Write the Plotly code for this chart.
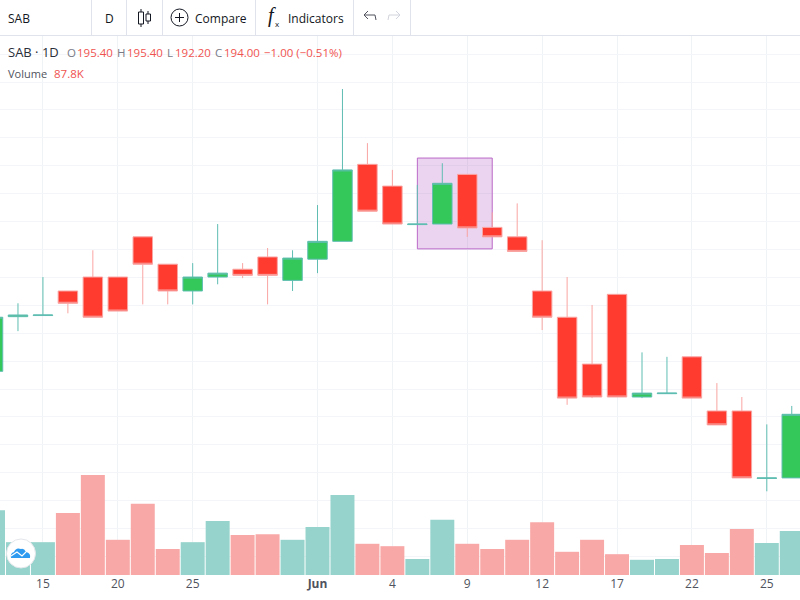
# SAB daily candles with volume underneath

import pandas as pd
import plotly.graph_objects as go

dates = ['2020-05-13','2020-05-14','2020-05-15','2020-05-18','2020-05-19','2020-05-20','2020-05-21','2020-05-22','2020-05-25','2020-05-26','2020-05-27',
         '2020-05-28','2020-05-29','2020-06-01','2020-06-02','2020-06-03','2020-06-04','2020-06-05','2020-06-08','2020-06-09','2020-06-10','2020-06-11',
         '2020-06-12','2020-06-15','2020-06-16','2020-06-17','2020-06-18','2020-06-19','2020-06-22','2020-06-23','2020-06-24','2020-06-25','2020-06-26']
open_px = [203.2,213.0,213.2,217.6,220.1,220.1,227.3,222.4,217.6,220.1,221.5,223.7,219.5,223.3,226.5,240.3,236.4,229.5,229.6,238.5,229.0,227.3,
           217.6,212.9,204.5,217.0,198.6,199.2,205.8,196.1,196.1,184.0,184.1]
high_px = [212.9,215.4,220.1,217.6,224.9,220.1,227.3,222.4,222.6,229.6,222.6,225.3,224.9,233.0,253.8,244.1,239.3,236.6,240.5,238.5,231.7,233.3,
           226.7,220.1,215.1,217.0,206.6,205.8,205.8,201.1,198.6,193.7,197.0]
low_px = [203.2,210.4,213.2,213.6,212.9,214.0,215.2,215.2,215.2,218.8,219.9,215.2,217.6,220.8,226.5,231.9,229.6,229.5,229.6,227.3,227.3,224.7,
          210.6,197.2,198.4,198.6,198.4,199.2,198.4,193.6,184.1,181.7,184.1]
close_px = [212.9,213.3,213.3,215.4,212.9,214.0,222.4,217.6,220.1,220.8,220.4,220.4,223.5,226.5,239.3,231.9,229.6,229.6,236.9,228.9,227.3,224.7,
            212.9,198.4,198.6,198.6,199.3,199.3,198.4,193.6,184.1,184.1,195.5]
volume = [162,82,82,155,250,88,178,65,82,135,100,102,88,120,200,78,72,40,138,78,65,88,132,58,88,52,38,40,75,55,115,80,110]
# volume is in thousands

tick_dates = ['2020-05-15','2020-05-20','2020-05-25','2020-06-01','2020-06-04','2020-06-09','2020-06-12','2020-06-17','2020-06-22','2020-06-25']
tick_labels = ['15','20','25','<b>Jun</b>','4','9','12','17','22','25']

df = pd.DataFrame({'date': dates, 'open': open_px, 'high': high_px, 'low': low_px, 'close': close_px, 'volume': volume})
df['bar_color'] = ['#95d3cc' if c >= o else '#f8a8a6' for o, c in zip(df['open'], df['close'])]

fig = go.Figure()
fig.add_trace(go.Bar(x=df['date'], y=df['volume'], marker_color=df['bar_color'], marker_line_width=0, yaxis='y2', hoverinfo='skip'))
fig.add_trace(go.Candlestick(x=df['date'], open=df['open'], high=df['high'], low=df['low'], close=df['close'],
                             increasing={'line': {'color': '#5fbdb2', 'width': 1}, 'fillcolor': '#34c759'},
                             decreasing={'line': {'color': '#f9a5a3', 'width': 1}, 'fillcolor': '#ff3b30'},
                             whiskerwidth=0))

fig.update_layout(margin={"r":0,"t":0,"l":0,"b":0}, width=800, height=600, showlegend=False, bargap=0.04, boxgap=0.22, boxgroupgap=0,
                  paper_bgcolor='white', plot_bgcolor='white', font={'family': 'Open Sans', 'color': '#50535e', 'size': 12},
                  xaxis={'type': 'category', 'range': [0.28, 32.33], 'rangeslider': {'visible': False}, 'domain': [0, 1], 'tickmode': 'array', 'tickvals': tick_dates,
                         'ticktext': tick_labels, 'showgrid': True, 'gridcolor': '#f0f3f6', 'zeroline': False, 'showline': False, 'ticks': ''},
                  yaxis={'range': [166.7, 263.3], 'domain': [25/600, 564/600], 'showgrid': False, 'showticklabels': False,
                         'zeroline': False, 'overlaying': 'y2', 'ticks': ''},
                  yaxis2={'range': [0, 1347], 'domain': [25/600, 564/600], 'dtick': 69.75, 'tick0': 46.25, 'gridcolor': '#f3f5f8', 'showticklabels': False, 'zeroline': False, 'ticks': ''})
# the grid sits on the volume axis so it stays under the purple box

# the purple box around the two candles, on y2 because only the base axis can take layer between
fig.add_shape(type='rect', xref='x', yref='y2', x0='2020-06-05', x1='2020-06-10', y0=815, y1=1042, layer='between',
              fillcolor='rgba(156,39,176,0.2)', line={'color': '#ba68c8', 'width': 1})

def page_x(x):
    return x / 800

def page_y(y):
    return 1 - y / 600

def add_text(x, y, text, size=12, color='#131722'):
    fig.add_annotation(xref='paper', yref='paper', x=page_x(x), y=page_y(y), text=text, showarrow=False, xanchor='left', yanchor='middle',
                       borderpad=0, font={'size': size, 'color': color})

def add_line(x0, y0, x1, y1, color='#e0e3eb', width=1):
    fig.add_shape(type='line', xref='paper', yref='paper', x0=page_x(x0), y0=page_y(y0), x1=page_x(x1), y1=page_y(y1), line={'color': color, 'width': width})

# toolbar
add_line(0, 35.5, 800, 35.5)
for sep in [91.5, 126.5, 162.5, 255.5, 353.5, 410.5]:
    add_line(sep, 0, sep, 35.5)
add_text(7, 18, 'SAB', 12)
add_text(104, 18, 'D', 12)
add_text(194, 18, 'Compare', 12)
add_text(287, 18, 'Indicators', 12)

# candle icon
add_line(141, 9, 141, 27, '#131722')
add_line(148, 11, 148, 24, '#131722')
fig.add_shape(type='rect', xref='paper', yref='paper', x0=page_x(138.5), x1=page_x(143.5), y0=page_y(12), y1=page_y(24), fillcolor='white', line={'color': '#131722', 'width': 1})
fig.add_shape(type='rect', xref='paper', yref='paper', x0=page_x(146), x1=page_x(150.5), y0=page_y(14), y1=page_y(21), fillcolor='white', line={'color': '#131722', 'width': 1})

# circle plus
fig.add_shape(type='circle', xref='paper', yref='paper', x0=page_x(171), x1=page_x(188), y0=page_y(9), y1=page_y(26), line={'color': '#131722', 'width': 1})
add_line(175, 17.5, 184, 17.5, '#131722')
add_line(179.5, 13, 179.5, 22, '#131722')

# fx
fig.add_annotation(xref='paper', yref='paper', x=page_x(266), y=page_y(16), text='<i>f</i>', showarrow=False, xanchor='left', yanchor='middle',
                   font={'family': 'Liberation Serif', 'size': 20, 'color': '#131722'})
add_text(274, 23, 'x', 8)

# undo and redo
add_line(364, 15, 375, 15, '#50535e')
add_line(364, 15, 368, 11, '#50535e')
add_line(364, 15, 368, 19, '#50535e')
add_line(375, 15, 376, 20, '#50535e')
add_line(389, 15, 400, 15, '#d1d4dc')
add_line(400, 15, 396, 11, '#d1d4dc')
add_line(400, 15, 396, 19, '#d1d4dc')
add_line(389, 15, 388, 20, '#d1d4dc')

# legend text
add_text(7, 52, 'SAB · 1D', 13, '#2a2e39')
add_text(66, 52, 'O', 11.5, '#787b86')
add_text(76, 52, '195.40', 11.5, '#ef5350')
add_text(116, 52, 'H', 11.5, '#787b86')
add_text(126, 52, '195.40', 11.5, '#ef5350')
add_text(166, 52, 'L', 11.5, '#787b86')
add_text(174, 52, '192.20', 11.5, '#ef5350')
add_text(214, 52, 'C', 11.5, '#787b86')
add_text(223, 52, '194.00', 11.5, '#ef5350')
add_text(263, 52, '−1.00 (−0.51%)', 11.5, '#ef5350')
add_text(7, 73, 'Volume', 11, '#50535e')
add_text(53, 73, '87.8K', 11.5, '#ef5350')

# logo in the corner
fig.add_shape(type='circle', xref='paper', yref='paper', x0=page_x(6.5), x1=page_x(35.5), y0=page_y(539), y1=page_y(568), fillcolor='white', line={'color': '#e3e6ea', 'width': 1})
fig.add_shape(type='path', xref='paper', yref='paper', fillcolor='#2e9bf0', line={'width': 0},
              path='M %f %f Q %f %f %f %f Q %f %f %f %f Q %f %f %f %f Q %f %f %f %f L %f %f Q %f %f %f %f Z' % (
                  page_x(11), page_y(558), page_x(10), page_y(553), page_x(14), page_y(552), page_x(16), page_y(547), page_x(21), page_y(549),
                  page_x(24), page_y(548), page_x(26), page_y(552), page_x(31), page_y(553), page_x(30), page_y(558), page_x(12), page_y(558),
                  page_x(11), page_y(558), page_x(11), page_y(558)))
fig.add_shape(type='path', xref='paper', yref='paper', line={'color': 'white', 'width': 1.2},
              path='M %f %f L %f %f L %f %f L %f %f' % (
                  page_x(11), page_y(556), page_x(17), page_y(552), page_x(22), page_y(556), page_x(26), page_y(552)))

fig.write_html("out.html", config={'displayModeBar': False}, post_script="document.body.style.margin='0';")
